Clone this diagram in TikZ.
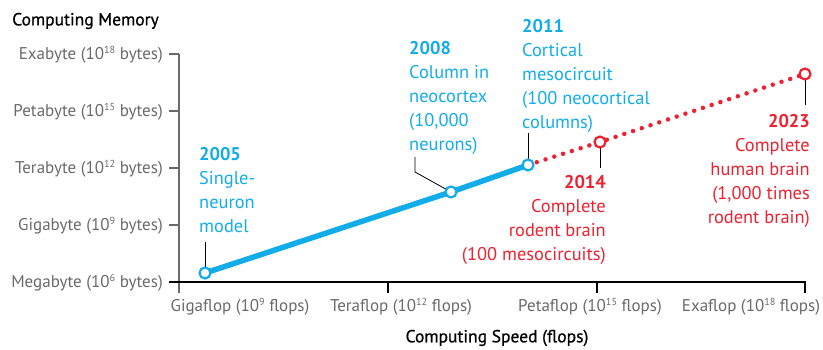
\documentclass[tikz,border=0pt]{standalone}
\usepackage{fontspec}
\setmainfont{PT Sans}
\newfontfamily\titlefont[FakeBold=0.8]{PT Sans}
\definecolor{brainblue}{HTML}{12ADE8}
\definecolor{brainred}{HTML}{EC2230}
\definecolor{axisgray}{HTML}{6A6A6A}
% small raised exponent for the axis labels
\newcommand\expo[1]{\raisebox{0.75ex}{\fontsize{10.2}{10.2}\selectfont #1}}
\begin{document}
\begin{tikzpicture}[x=1pt,y=-1pt,
  axislabel/.style={font=\fontsize{17}{21}\selectfont, text=axisgray, inner sep=0pt},
  title/.style={font=\titlefont\fontsize{17.5}{21}\selectfont, text=black, inner sep=0pt},
  note/.style={font=\fontsize{18.4}{24}\selectfont, inner sep=0pt},
  bluenote/.style={note, text=brainblue, align=left},
  rednote/.style={note, text=brainred, align=right},
  marker/.style={circle, draw, fill=white, line width=2.2pt, minimum size=11pt, inner sep=0pt},
  leader/.style={draw=black, line width=0.8pt},
  tickmark/.style={line width=1.2pt}]
\useasboundingbox (0,0) rectangle (823,349);

% axes
\coordinate (ytop) at (179,54);
\coordinate (ybot) at (179,293);
\coordinate (xleft) at (169,282);
\coordinate (xright) at (806,282);
\draw[axisgray, line width=1.3pt] (ytop) -- (ybot);
\draw[black, line width=1.6pt] (xleft) -- (xright);
\foreach \y in {54,111,168,225} \draw[axisgray, tickmark] (169,\y) -- (179,\y);
\foreach \x in {388,597,805} \draw[black, tickmark] (\x,282) -- (\x,293);

% axis labels
\node[title, anchor=west] (ytitle) at (12,21) {Computing Memory};
\node[title] (xtitle) at (497,338) {Computing Speed (flops)};
\node[axislabel, anchor=east] (eb) at (163,55) {Exabyte (10\expo{18} bytes)};
\node[axislabel, anchor=east] (pb) at (163,112) {Petabyte (10\expo{15} bytes)};
\node[axislabel, anchor=east] (tb) at (163,169) {Terabyte (10\expo{12} bytes)};
\node[axislabel, anchor=east] (gb) at (163,226) {Gigabyte (10\expo{9} bytes)};
\node[axislabel, anchor=east] (mb) at (163,283) {Megabyte (10\expo{6} bytes)};
\node[axislabel] (gf) at (240,307) {Gigaflop (10\expo{9} flops)};
\node[axislabel] (tf) at (401,307) {Teraflop (10\expo{12} flops)};
\node[axislabel] (pf) at (590,307) {Petaflop (10\expo{15} flops)};
\node[axislabel] (ef) at (751,307) {Exaflop (10\expo{18} flops)};

% milestones
\coordinate (p05) at (205,273);
\coordinate (p08) at (451,192);
\coordinate (p11) at (528,165);
\coordinate (p14) at (600,142);
\coordinate (p23) at (805,74);

\draw[brainblue, line width=5.5pt] (p05) -- (p08) -- (p11);
\draw[brainred, line width=4.5pt, line cap=round, dash pattern=on 0pt off 9.2pt] (p11) -- (p14) -- (p23);

% leader lines
\coordinate (l05) at (205,242);
\coordinate (l08a) at (415,157);
\coordinate (l08b) at (415,172);
\coordinate (l11) at (528,133);
\coordinate (l14) at (600,168);
\coordinate (l23) at (805,105);
\draw[leader] (p05) -- (l05);
\draw[leader] (p08) -- (l08b) -- (l08a);
\draw[leader] (p11) -- (l11);
\draw[leader] (p14) -- (l14);
\draw[leader] (p23) -- (l23);

\node[marker, draw=brainblue] (m05) at (p05) {};
\node[marker, draw=brainblue] (m08) at (p08) {};
\node[marker, draw=brainblue] (m11) at (p11) {};
\node[marker, draw=brainred] (m14) at (p14) {};
\node[marker, draw=brainred] (m23) at (p23) {};

% annotations
\node[bluenote, anchor=north west] (n05) at (199,147) {\textbf{2005}\\Single-\\neuron\\model};
\node[bluenote, anchor=north west] (n08) at (409,41) {\textbf{2008}\\Column in\\neocortex\\(10,000\\neurons)};
\node[bluenote, anchor=north west] (n11) at (522,19) {\textbf{2011}\\Cortical\\mesocircuit\\(100 neocortical\\columns)};
\node[rednote, anchor=north east] (n14) at (606,175) {\textbf{2014}\\Complete\\rodent brain\\(100 mesocircuits)};
\node[rednote, anchor=north east] (n23) at (810,114) {\textbf{2023}\\Complete\\human brain\\(1,000 times\\rodent brain)};
\end{tikzpicture}
\end{document}
